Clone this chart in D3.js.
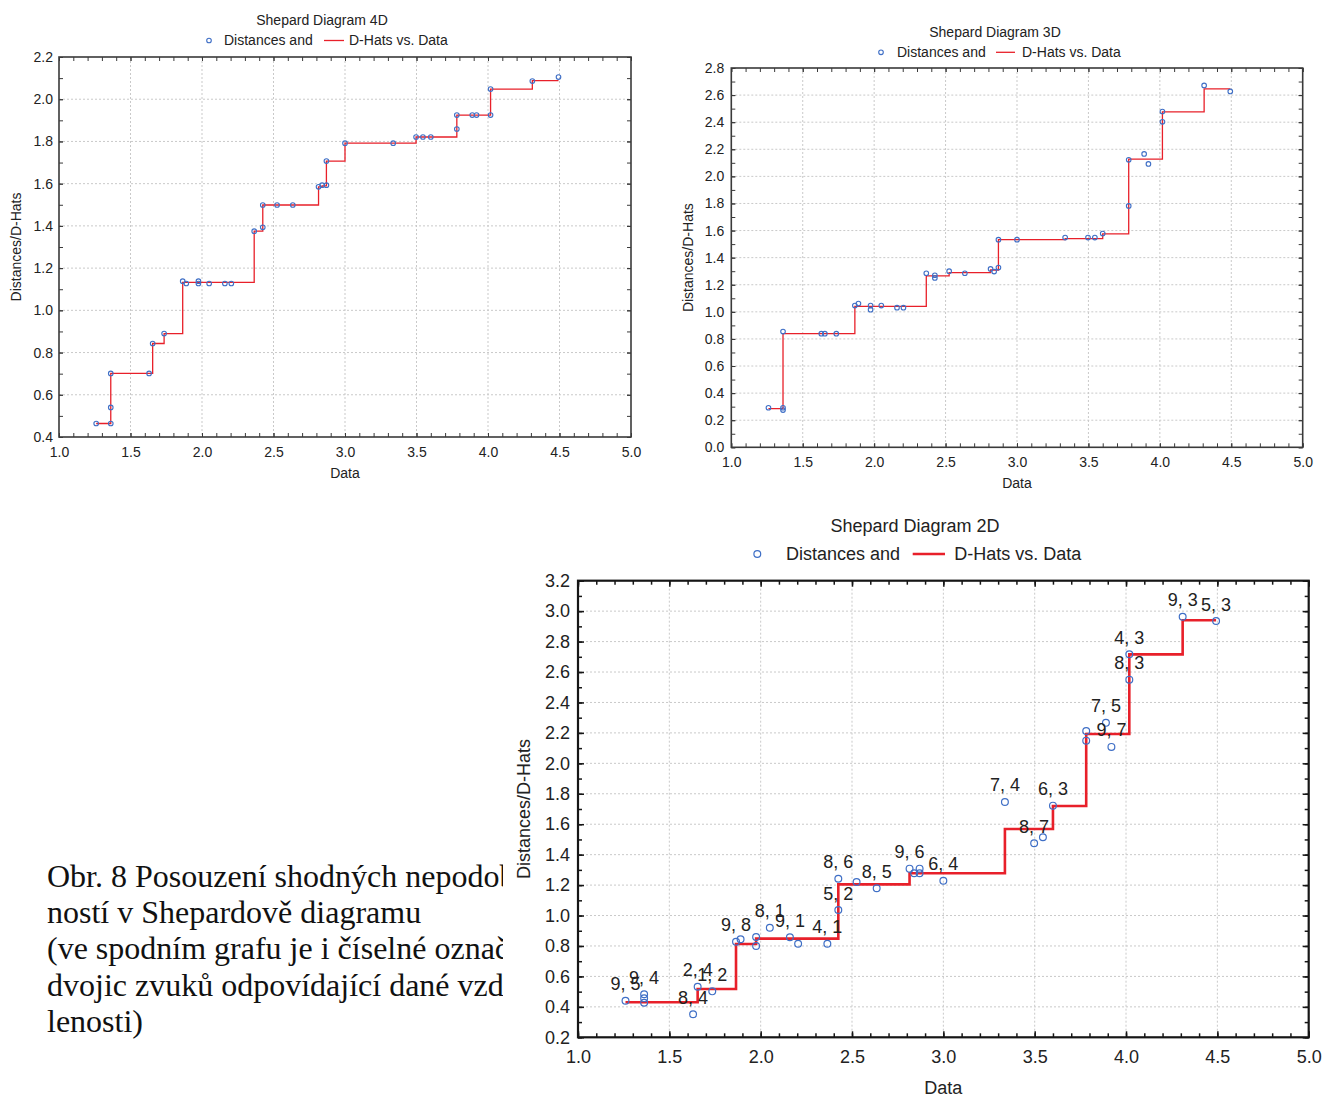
<!DOCTYPE html>
<html><head><meta charset="utf-8">
<script src="https://cdn.jsdelivr.net/npm/d3@7"></script>
<style>body{margin:0;background:#fff} svg{display:block}</style>
</head><body>
<svg id="c" width="1323" height="1098"></svg>
<script>
// ---- shared input dissimilarities (x axis "Data") ----
const dataX = [1.26, 1.362, 1.362, 1.362, 1.63, 1.655, 1.735, 1.865, 1.89, 1.975, 1.975, 2.05, 2.16, 2.205, 2.365, 2.425, 2.425, 2.525, 2.635, 2.815, 2.84, 2.87, 2.87, 3.0, 3.337, 3.497, 3.545, 3.60, 3.782, 3.782, 3.89, 3.92, 4.018, 4.018, 4.31, 4.493];

// ---- 4D solution ----
const dist4D = [0.464, 0.464, 0.540, 0.701, 0.701, 0.843, 0.890, 1.138, 1.127, 1.138, 1.127, 1.127, 1.127, 1.127, 1.375, 1.393, 1.499, 1.499, 1.499, 1.585, 1.593, 1.593, 1.707, 1.792, 1.792, 1.821, 1.821, 1.821, 1.859, 1.925, 1.925, 1.925, 1.925, 2.048, 2.086, 2.105];
const dhat4D = [0.464, 0.464, 0.540, 0.701, 0.701, 0.843, 0.890, 1.132, 1.132, 1.132, 1.132, 1.132, 1.132, 1.132, 1.375, 1.380, 1.499, 1.499, 1.499, 1.585, 1.590, 1.593, 1.707, 1.792, 1.792, 1.821, 1.821, 1.821, 1.859, 1.925, 1.925, 1.925, 1.925, 2.048, 2.088, 2.088];

// ---- 3D solution ----
const dist3D = [0.292, 0.275, 0.292, 0.854, 0.839, 0.839, 0.839, 1.046, 1.061, 1.016, 1.046, 1.046, 1.031, 1.031, 1.285, 1.250, 1.270, 1.300, 1.285, 1.317, 1.297, 1.327, 1.533, 1.533, 1.548, 1.548, 1.548, 1.578, 1.782, 2.122, 2.166, 2.092, 2.403, 2.479, 2.671, 2.627];
const dhat3D = [0.285, 0.285, 0.285, 0.839, 0.839, 0.839, 0.839, 1.041, 1.041, 1.041, 1.041, 1.041, 1.041, 1.041, 1.265, 1.265, 1.265, 1.290, 1.290, 1.309, 1.309, 1.309, 1.533, 1.533, 1.540, 1.540, 1.540, 1.575, 1.782, 2.127, 2.127, 2.127, 2.403, 2.476, 2.646, 2.646];

// ---- 2D solution ----
const dist2D = [0.440, 0.427, 0.456, 0.483, 0.351, 0.532, 0.502, 0.828, 0.844, 0.800, 0.859, 0.920, 0.857, 0.815, 0.815, 1.036, 1.242, 1.220, 1.179, 1.308, 1.278, 1.278, 1.308, 1.229, 1.746, 1.475, 1.514, 1.722, 2.149, 2.212, 2.266, 2.108, 2.550, 2.716, 2.963, 2.935];
const dhat2D = [0.430, 0.430, 0.430, 0.430, 0.430, 0.517, 0.517, 0.813, 0.813, 0.813, 0.848, 0.848, 0.848, 0.848, 0.848, 1.205, 1.205, 1.205, 1.205, 1.278, 1.278, 1.278, 1.278, 1.278, 1.569, 1.569, 1.569, 1.720, 2.193, 2.193, 2.193, 2.193, 2.716, 2.716, 2.940, 2.940];
const pairLabels2D = ["9, 5", "", "", "9, 4", "8, 4", "2, 4", "1, 2", "9, 8", "", "", "", "8, 1", "9, 1", "", "4, 1", "5, 2", "8, 6", "", "8, 5", "9, 6", "", "", "", "6, 4", "7, 4", "8, 7", "", "6, 3", "", "", "7, 5", "9, 7", "8, 3", "4, 3", "9, 3", "5, 3"];

// ---- ticks & texts ----
const xTicks = [1.0, 1.5, 2.0, 2.5, 3.0, 3.5, 4.0, 4.5, 5.0];
const yTicks4D = [0.4, 0.6, 0.8, 1.0, 1.2, 1.4, 1.6, 1.8, 2.0, 2.2];
const yTicks3D = [0.0, 0.2, 0.4, 0.6, 0.8, 1.0, 1.2, 1.4, 1.6, 1.8, 2.0, 2.2, 2.4, 2.6, 2.8];
const yTicks2D = [0.2, 0.4, 0.6, 0.8, 1.0, 1.2, 1.4, 1.6, 1.8, 2.0, 2.2, 2.4, 2.6, 2.8, 3.0, 3.2];
const chartTitles = ["Shepard Diagram 4D", "Shepard Diagram 3D", "Shepard Diagram 2D"];
const legendLabels = ["Distances and", "D-Hats vs. Data"];
const xAxisTitle = "Data";
const yAxisTitle = "Distances/D-Hats";
const captionLines = [
  "Obr. 8 Posouzení shodných nepodob-",
  "ností v Shepardově diagramu",
  "(ve spodním grafu je i číselné označení",
  "dvojic zvuků odpovídající dané vzdá-",
  "lenosti)"
];

const svg = d3.select("#c");
const BLUE = "#3f6fc6", RED = "#e8202a", TXT = "#222";
const FONT = "'Liberation Sans', Arial, sans-serif";

// caption (clipped by the chart on the right)
svg.append("clipPath").attr("id", "capclip").append("rect")
  .attr("x", 0).attr("y", 840).attr("width", 503).attr("height", 220);
svg.append("g").attr("clip-path", "url(#capclip)")
  .selectAll("text").data(captionLines).join("text")
  .attr("x", 47).attr("y", (d, i) => 887 + i * 36.2)
  .attr("font-family", "'Liberation Serif', 'Times New Roman', serif")
  .attr("font-size", 32).attr("fill", "#111").text(d => d);

const charts = [
  {title: chartTitles[0], dist: dist4D, dhat: dhat4D, yTicks: yTicks4D,
   left: 59, right: 631, top: 57, bottom: 437, font: 14,
   titleX: 322, titleY: 20, leg: {y: 40.5, cx: 209, t1: 224, l1: 324, l2: 344, t2: 349},
   ylabelX: 16, xlabelY: 473.3, xPad: 10, yPad: 6, r: 2.3, lineW: 1.3, ptW: 1.1,
   frameW: 1.6, frameColor: "#3a3a3a", majTick: 4, minTick: 4, labels: null},
  {title: chartTitles[1], dist: dist3D, dhat: dhat3D, yTicks: yTicks3D,
   left: 731.3, right: 1302.7, top: 68, bottom: 447.3, font: 14,
   titleX: 995, titleY: 31.7, leg: {y: 52.3, cx: 881, t1: 897, l1: 996, l2: 1015, t2: 1022},
   ylabelX: 688.3, xlabelY: 483.3, xPad: 10, yPad: 7, r: 2.3, lineW: 1.3, ptW: 1.1,
   frameW: 1.6, frameColor: "#3a3a3a", majTick: 4, minTick: 4, labels: null},
  {title: chartTitles[2], dist: dist2D, dhat: dhat2D, yTicks: yTicks2D,
   left: 578, right: 1308.7, top: 580.7, bottom: 1037.3, font: 18,
   titleX: 915, titleY: 526, leg: {y: 554, cx: 757.3, t1: 786, l1: 912.7, l2: 945, t2: 954.3},
   ylabelX: 523.3, xlabelY: 1087.5, xPad: 13, yPad: 8, r: 3.4, lineW: 2.6, ptW: 1.2,
   frameW: 2.2, frameColor: "#161616", majTick: 6, minTick: 4, labels: pairLabels2D}
];

function drawChart(c) {
  const g = svg.append("g");
  const yDom = [c.yTicks[0], c.yTicks[c.yTicks.length - 1]];
  const x = d3.scaleLinear().domain([xTicks[0], xTicks[xTicks.length - 1]]).range([c.left, c.right]);
  const y = d3.scaleLinear().domain(yDom).range([c.bottom, c.top]);
  const W = c.right - c.left, H = c.bottom - c.top;

  // grid
  g.append("g").selectAll("line").data(xTicks.slice(1, -1)).join("line")
    .attr("x1", d => x(d)).attr("x2", d => x(d)).attr("y1", c.top).attr("y2", c.bottom)
    .attr("stroke", "#c9c9c9").attr("stroke-width", 1).attr("stroke-dasharray", "2,2");
  g.append("g").selectAll("line").data(c.yTicks.slice(1, -1)).join("line")
    .attr("y1", d => y(d)).attr("y2", d => y(d)).attr("x1", c.left).attr("x2", c.right)
    .attr("stroke", "#c9c9c9").attr("stroke-width", 1).attr("stroke-dasharray", "2,2");

  // step line of D-hats
  const pts = d3.zip(dataX, c.dist, c.dhat);
  g.append("path").datum(pts)
    .attr("d", d3.line().x(d => x(d[0])).y(d => y(d[2])).curve(d3.curveStepAfter))
    .attr("fill", "none").attr("stroke", RED).attr("stroke-width", c.lineW);

  // distances
  g.append("g").selectAll("circle").data(pts).join("circle")
    .attr("cx", d => x(d[0])).attr("cy", d => y(d[1])).attr("r", c.r)
    .attr("fill", "none").attr("stroke", BLUE).attr("stroke-width", c.ptW);

  // point labels
  if (c.labels) {
    g.append("g").selectAll("text").data(d3.zip(dataX, c.dist, c.labels).filter(d => d[2]))
      .join("text")
      .attr("x", d => x(d[0])).attr("y", d => y(d[1]) - 10.5)
      .attr("text-anchor", "middle").attr("font-family", FONT).attr("font-size", c.font)
      .attr("fill", TXT).text(d => d[2]);
  }

  // axes with inward ticks
  const fmt = d3.format(".1f");
  const minorX = x.ticks(Math.round((x.domain()[1] - x.domain()[0]) * 10));
  const minorY = y.ticks(Math.round((yDom[1] - yDom[0]) * 10));
  const styleAxis = (sel) => {
    sel.select(".domain").remove();
    sel.selectAll(".tick line").attr("stroke", c.frameColor).attr("stroke-width", c.frameW > 2 ? 1.5 : 1);
    sel.selectAll(".tick text").attr("font-family", FONT).attr("font-size", c.font).attr("fill", TXT);
  };
  // minor
  g.append("g").attr("transform", `translate(0,${c.bottom})`)
    .call(d3.axisBottom(x).tickValues(minorX).tickSize(-c.minTick).tickFormat("")).call(styleAxis);
  g.append("g").attr("transform", `translate(0,${c.top})`)
    .call(d3.axisTop(x).tickValues(minorX).tickSize(-c.minTick).tickFormat("")).call(styleAxis);
  g.append("g").attr("transform", `translate(${c.left},0)`)
    .call(d3.axisLeft(y).tickValues(minorY).tickSize(-c.minTick).tickFormat("")).call(styleAxis);
  g.append("g").attr("transform", `translate(${c.right},0)`)
    .call(d3.axisRight(y).tickValues(minorY).tickSize(-c.minTick).tickFormat("")).call(styleAxis);
  // major with labels
  g.append("g").attr("transform", `translate(0,${c.bottom})`)
    .call(d3.axisBottom(x).tickValues(xTicks).tickSize(-c.majTick).tickPadding(c.xPad).tickFormat(fmt)).call(styleAxis);
  g.append("g").attr("transform", `translate(${c.left},0)`)
    .call(d3.axisLeft(y).tickValues(c.yTicks).tickSize(-c.majTick).tickPadding(c.yPad).tickFormat(fmt)).call(styleAxis);
  g.append("g").attr("transform", `translate(0,${c.top})`)
    .call(d3.axisTop(x).tickValues(xTicks).tickSize(-c.majTick).tickFormat("")).call(styleAxis);
  g.append("g").attr("transform", `translate(${c.right},0)`)
    .call(d3.axisRight(y).tickValues(c.yTicks).tickSize(-c.majTick).tickFormat("")).call(styleAxis);

  // frame
  g.append("rect").attr("x", c.left).attr("y", c.top).attr("width", W).attr("height", H)
    .attr("fill", "none").attr("stroke", c.frameColor).attr("stroke-width", c.frameW);

  // titles
  g.append("text").attr("x", c.titleX).attr("y", c.titleY).attr("dy", "0.35em")
    .attr("text-anchor", "middle").attr("font-family", FONT).attr("font-size", c.font)
    .attr("fill", TXT).text(c.title);
  g.append("text").attr("x", (c.left + c.right) / 2).attr("y", c.xlabelY).attr("dy", "0.35em")
    .attr("text-anchor", "middle").attr("font-family", FONT).attr("font-size", c.font)
    .attr("fill", TXT).text(xAxisTitle);
  g.append("text").attr("transform", `translate(${c.ylabelX},${(c.top + c.bottom) / 2}) rotate(-90)`)
    .attr("dy", "0.35em").attr("text-anchor", "middle").attr("font-family", FONT)
    .attr("font-size", c.font).attr("fill", TXT).text(yAxisTitle);

  // legend
  const L = c.leg;
  g.append("circle").attr("cx", L.cx).attr("cy", L.y).attr("r", c.r)
    .attr("fill", "none").attr("stroke", BLUE).attr("stroke-width", c.ptW);
  g.append("text").attr("x", L.t1).attr("y", L.y).attr("dy", "0.35em")
    .attr("font-family", FONT).attr("font-size", c.font).attr("fill", TXT).text(legendLabels[0]);
  g.append("line").attr("x1", L.l1).attr("x2", L.l2).attr("y1", L.y).attr("y2", L.y)
    .attr("stroke", RED).attr("stroke-width", c.lineW);
  g.append("text").attr("x", L.t2).attr("y", L.y).attr("dy", "0.35em")
    .attr("font-family", FONT).attr("font-size", c.font).attr("fill", TXT).text(legendLabels[1]);
}

charts.forEach(drawChart);
</script>
</body></html>
